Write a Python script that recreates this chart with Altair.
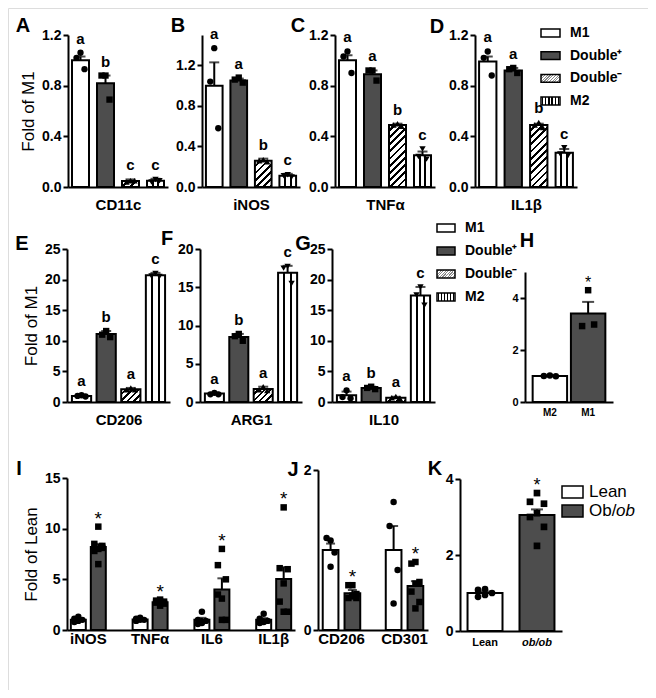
import altair as alt
import pandas as pd

FONT = "Liberation Sans"
OFF = 8
CW, CH = 640, 682
DARK = "#4d4d4d"

# ---------------- data ----------------
M_CATS = ["M1", "Double+", "Double-", "M2"]

A_mean = [1.00, 0.82, 0.047, 0.05]
A_err = [1.03, 0.88, 0.06, 0.065]
A_pts = [[1.06, 1.02, 0.93], [0.88, 0.88, 0.69], [0.05, 0.04, 0.05], [0.06, 0.04, 0.05]]
A_lab = ["a", "b", "c", "c"]

B_mean = [1.00, 1.05, 0.26, 0.11]
B_err = [1.23, 1.07, 0.28, 0.13]
B_pts = [[1.37, 1.04, 0.58], [1.08, 1.06, 1.03], [0.27, 0.26, 0.25], [0.12, 0.11, 0.10]]
B_lab = ["a", "a", "b", "c"]

C_mean = [1.00, 0.89, 0.49, 0.25]
C_err = [1.04, 0.92, 0.50, 0.28]
C_pts = [[1.07, 1.03, 0.90], [0.92, 0.92, 0.84], [0.50, 0.49, 0.48], [0.30, 0.24, 0.22]]
C_lab = ["a", "a", "b", "c"]

D_mean = [0.99, 0.92, 0.49, 0.27]
D_err = [1.03, 0.94, 0.50, 0.30]
D_pts = [[1.07, 1.02, 0.88], [0.94, 0.93, 0.90], [0.51, 0.49, 0.47], [0.31, 0.26, 0.25]]
D_lab = ["a", "a", "b", "c"]

E_mean = [1.0, 11.1, 2.1, 20.7]
E_err = [1.1, 11.6, 2.3, 21.1]
E_pts = [[1.1, 1.0, 0.9], [11.6, 11.0, 10.6], [2.3, 2.0, 2.0], [21.0, 20.6, 20.5]]
E_lab = ["a", "b", "a", "c"]

F_mean = [1.1, 8.5, 1.7, 16.9]
F_err = [1.2, 8.9, 2.0, 17.8]
F_pts = [[1.2, 1.0, 1.0], [8.9, 8.6, 8.0], [2.0, 1.6, 1.5], [17.7, 17.5, 15.5]]
F_lab = ["a", "b", "a", "c"]

G_mean = [1.1, 2.3, 0.7, 17.4]
G_err = [1.7, 2.5, 0.85, 18.8]
G_pts = [[1.9, 0.8, 0.6], [2.5, 2.3, 2.1], [0.9, 0.7, 0.6], [18.8, 17.5, 15.8]]
G_lab = ["a", "b", "a", "c"]

H_cats = ["M2", "M1"]
H_mean = [1.0, 3.4]
H_err = [1.02, 3.85]
H_pts = [[1.02, 1.0, 0.99], [4.3, 2.92, 2.98]]
H_lab = ["", "*"]

GROUPS = ["Lean", "Ob"]
I_genes = ["iNOS", "TNFα", "IL6", "IL1β"]
I_lean_mean = [1.0, 1.04, 1.0, 1.02]
I_lean_err = [1.1, 1.1, 1.2, 1.17]
I_lean_pts = [[1.3, 1.1, 1.0, 0.9, 0.8], [1.2, 1.1, 1.0, 1.0, 0.9],
              [1.8, 1.0, 0.9, 0.7, 0.6], [1.6, 1.1, 0.9, 0.8, 0.7]]
I_ob_mean = [8.2, 2.74, 4.0, 5.03]
I_ob_err = [8.5, 2.9, 5.1, 6.2]
I_ob_pts = [[10.2, 8.5, 8.3, 8.0, 7.8, 8.1, 6.5], [3.0, 2.9, 2.8, 2.8, 2.7, 2.6, 2.4],
            [8.0, 6.4, 5.0, 3.1, 3.5, 1.0, 1.0], [12.1, 6.1, 6.0, 4.6, 2.8, 1.8, 1.8]]
I_stars = ["*", "*", "*", "*"]

J_genes = ["CD206", "CD301"]
J_lean_mean = [1.0, 1.0]
J_lean_err = [1.08, 1.3]
J_lean_pts = [[1.12, 1.15, 0.97, 0.79], [1.6, 1.3, 0.75, 0.33]]
J_ob_mean = [0.46, 0.55]
J_ob_err = [0.5, 0.61]
J_ob_pts = [[0.56, 0.56, 0.45, 0.42, 0.40, 0.40, 0.43], [0.85, 0.83, 0.6, 0.58, 0.48, 0.35, 0.27]]
J_stars = ["*", "*"]

K_cats = ["Lean", "ob/ob"]
K_mean = [1.0, 3.05]
K_err = [1.04, 3.2]
K_pts = [[1.1, 1.08, 1.0, 0.95, 0.9], [3.63, 3.4, 3.35, 3.1, 3.0, 2.74, 2.24]]
K_lab = ["", "*"]

LEG_M_KEYS = ["M1", "Double+", "Double-", "M2"]
LEG_M_TEXT = ["M1", "Double⁺", "Double⁻", "M2"]
LEG_L_KEYS = ["Lean", "Ob"]
LEG_L_TEXT = ["Lean", "Ob/"]

# ---------------- layout / style ----------------
P = {
    "A": dict(x0=68, x1=168, y0=187, ytop=35, ymax=1.2, ticks=[0, 0.4, 0.8, 1.2], fmt=".1f", pi=0.32, po=0.16, xtitle="CD11c", ytitle="Fold of M1"),
    "B": dict(x0=202, x1=300, y0=187, ytop=35, ymax=1.5, ticks=[0, 0.4, 0.8, 1.2], fmt=".1f", pi=0.32, po=0.16, xtitle="iNOS"),
    "C": dict(x0=335, x1=435, y0=187, ytop=35, ymax=1.2, ticks=[0, 0.4, 0.8, 1.2], fmt=".1f", pi=0.32, po=0.16, xtitle="TNFα"),
    "D": dict(x0=475, x1=577, y0=187, ytop=35, ymax=1.2, ticks=[0, 0.4, 0.8, 1.2], fmt=".1f", pi=0.32, po=0.16, xtitle="IL1β"),
    "E": dict(x0=67, x1=170, y0=402, ytop=249, ymax=25, ticks=[0, 5, 10, 15, 20, 25], fmt="d", pi=0.22, po=0.2, xtitle="CD206", ytitle="Fold of M1"),
    "F": dict(x0=200, x1=302, y0=402, ytop=249, ymax=20, ticks=[0, 5, 10, 15, 20], fmt="d", pi=0.22, po=0.2, xtitle="ARG1"),
    "G": dict(x0=332, x1=435, y0=402, ytop=249, ymax=25, ticks=[0, 5, 10, 15, 20, 25], fmt="d", pi=0.22, po=0.2, xtitle="IL10"),
    "H": dict(x0=525, x1=613, y0=402, ytop=272, ymax=5, ticks=[0, 2, 4], fmt="d", pi=0.1, po=0.2, ylfs=11, xlabels=True, xlfs=10, xlpad=5, jit=6, cap=12, star=16, ps=42),
    "I": dict(x0=67, x1=295, y0=630, ytop=478, ymax=15, ticks=[0, 5, 10, 15], fmt="d", pi=0.434, po=0.062, opi=0.25, ytitle="Fold of Lean", xlabels=True, xlfs=15, xlpad=1, star=19),
    "J": dict(x0=318, x1=428, y0=630, ytop=470, ymax=2, ticks=[0, 1, 2], fmt="d", pi=0.405, po=0.075, opi=0.28, xlabels=True, xlfs=15, xlpad=1, star=19),
    "K": dict(x0=460, x1=562, y0=631, ytop=479, ymax=4, ticks=[0, 2, 4], fmt="d", pi=0.327, po=0.145, xlabels=True, xlfs=11, xlpad=5, jit=7, cap=12, star=18, ps=45,
              lstyle={"condition": {"test": "datum.value === 'ob/ob'", "value": "italic"}, "value": "normal"}),
}
LETTERS = {"A": (23, 32), "B": (178, 32), "C": (298, 32), "D": (437, 33), "E": (22, 250), "F": (167, 245),
           "G": (303, 250), "H": (527, 247), "I": (19, 475), "J": (293, 476), "K": (435, 475)}
LEG1 = dict(r0=21.6, r1=112.4, pi=0.65, po=0.325, sx0=541, sx1=560, tx=570, fs=14, fw="bold")
LEG2 = dict(r0=216.5, r1=308.5, pi=0.65, po=0.325, sx0=437, sx1=455, tx=465, fs=14, fw="bold")
LEG3 = dict(r0=482.5, r1=520.5, pi=0.37, po=0.185, sx0=562, sx1=583, tx=589, fs=17, fw="normal", ital_x=616)


# ---------------- helpers ----------------
def grad(stops, x2, y2):
    return alt.LinearGradient(gradient="linear", x1=0, y1=0, x2=round(x2, 4), y2=round(y2, 4),
                              stops=[alt.GradientStop(color=c, offset=round(min(max(o, 0), 1), 4)) for c, o in stops])


def hatch(W, H, period=7.0, ink=0.38, c_ink="black", c_bg="white"):
    n = max(1, int(round((W + H) / period)))
    k = (W + H) / (W * W + H * H)
    st = []
    for i in range(n):
        a, b, c = i / n, (i + 1 - ink) / n, (i + 1) / n
        st += [(c_bg, a), (c_bg, b), (c_ink, b), (c_ink, c)]
    return grad(st, W * k, H * k)


def vstripes(fracs, lw):
    st, pos = [], 0.0
    for f in fracs:
        a, b = f - lw / 2, f + lw / 2
        st += [("white", pos), ("white", a), ("black", a), ("black", b)]
        pos = b
    st += [("white", pos), ("white", 1.0)]
    return grad(st, 1, 0)


def bandwidth(L, n):
    step = (L["x1"] - L["x0"]) / (n - L["pi"] + 2 * L["po"])
    return step, step * (1 - L["pi"])


def xscale(L, cats):
    return alt.Scale(type="band", domain=cats, range=[L["x0"] - OFF, L["x1"] - OFF],
                     paddingInner=L["pi"], paddingOuter=L["po"])


def yscale(L):
    return alt.Scale(domain=[0, L["ymax"]], range=[L["y0"] - OFF, L["ytop"] - OFF], nice=False, zero=False)


def x_axis(L):
    kw = dict(orient="bottom", offset=(L["y0"] - OFF) - CH, ticks=False, domainWidth=2, domainColor="black",
              titleFont=FONT, titleFontSize=15, titleFontWeight="bold", titleColor="black", titlePadding=10)
    if L.get("xlabels"):
        kw.update(labels=True, labelFont=FONT, labelFontSize=L["xlfs"], labelFontWeight="bold", labelColor="black",
                  labelPadding=L["xlpad"], labelAngle=0)
    else:
        kw.update(labels=False)
    if "lstyle" in L:
        kw["labelFontStyle"] = L["lstyle"]
    return alt.Axis(**kw)


def y_axis(L):
    return alt.Axis(orient="left", offset=-(L["x0"] - OFF), values=L["ticks"], format=L["fmt"],
                    labelFont=FONT, labelFontSize=L.get("ylfs", 14), labelFontWeight="bold", labelColor="black",
                    labelPadding=2, tickSize=5, tickWidth=2, tickColor="black", domainWidth=2, domainColor="black",
                    grid=False, titleFont=FONT, titleFontSize=17, titleFontWeight="normal", titleColor="black",
                    titlePadding=4)


def X(L, cats, with_axis=False):
    if with_axis:
        return alt.X("cat:N", scale=xscale(L, cats), axis=x_axis(L), title=L.get("xtitle"))
    return alt.X("cat:N", scale=xscale(L, cats), axis=None)


def Y(L, field, with_axis=False):
    if with_axis:
        return alt.Y(f"{field}:Q", scale=yscale(L), axis=y_axis(L), title=L.get("ytitle"))
    return alt.Y(f"{field}:Q", scale=yscale(L), axis=None)


def fill_for(style, W, H):
    if style == "white":
        return "white"
    if style == "dark":
        return DARK
    if style == "diag":
        return hatch(W, H)
    return vstripes([1 / 3, 2 / 3], 2.0 / W)


def simple_panel(L, cats, means, errs, pts, labs, styles, shapes):
    bars = pd.DataFrame({"cat": cats, "mv": means, "ev": errs,
                         "ann": [max(e, max(p)) for e, p in zip(errs, pts)], "lab": labs})
    rows = []
    for c, plist, shp in zip(cats, pts, shapes):
        for i, v in enumerate(plist):
            rows.append({"cat": c, "val": v, "slot": i % 3, "shape": shp})
    pdf = pd.DataFrame(rows)
    step, W = bandwidth(L, len(cats))
    layers = []
    for j, (c, m, stl) in enumerate(zip(cats, means, styles)):
        Hpx = m / L["ymax"] * (L["y0"] - L["ytop"])
        layers.append(alt.Chart(bars).transform_filter(alt.datum.cat == c)
                      .mark_bar(fill=fill_for(stl, W, Hpx), stroke="black", strokeWidth=2, opacity=1)
                      .encode(x=X(L, cats, j == 0), y=Y(L, "mv", j == 0)))
    layers.append(alt.Chart(bars).mark_rule(color="black", strokeWidth=2)
                  .encode(x=X(L, cats), y=Y(L, "mv"), y2="ev:Q"))
    layers.append(alt.Chart(bars).mark_tick(color="black", thickness=2, size=L.get("cap", 10))
                  .encode(x=X(L, cats), y=Y(L, "ev")))
    d = L.get("jit", 4)
    for s, off in enumerate([0, -d, d]):
        layers.append(alt.Chart(pdf).transform_filter(alt.datum.slot == s)
                      .mark_point(filled=True, color="black", opacity=1, size=L.get("ps", 40), xOffset=off)
                      .encode(x=X(L, cats), y=Y(L, "val"), shape=alt.Shape("shape:N", scale=None)))
    if "star" in L:
        txt = alt.Chart(bars).mark_text(font=FONT, fontSize=L["star"], color="black", baseline="alphabetic", dy=-2)
    else:
        txt = alt.Chart(bars).mark_text(font=FONT, fontSize=15, fontWeight="bold", color="black",
                                        baseline="alphabetic", dy=-9)
    layers.append(txt.encode(x=X(L, cats), y=Y(L, "ann"), text="lab:N"))
    return layers


def grouped_panel(L, genes, lm, le, lp, om, oe, op, stars):
    rows, prow = [], []
    for g, a1, a2, a3, b1, b2, b3, st in zip(genes, lm, le, lp, om, oe, op, stars):
        rows.append(dict(cat=g, grp="Lean", mv=a1, ev=a2, ann=max(a2, max(a3)), lab=""))
        rows.append(dict(cat=g, grp="Ob", mv=b1, ev=b2, ann=max(b2, max(b3)), lab=st))
        for i, v in enumerate(a3):
            prow.append(dict(cat=g, grp="Lean", val=v, slot=i % 3, shape="circle"))
        for i, v in enumerate(b3):
            prow.append(dict(cat=g, grp="Ob", val=v, slot=i % 3, shape="square"))
    bars, pdf = pd.DataFrame(rows), pd.DataFrame(prow)
    step, bw = bandwidth(L, len(genes))
    sub = bw / (2 - L["opi"])
    XO = alt.XOffset("grp:N", scale=alt.Scale(type="band", domain=GROUPS, paddingInner=L["opi"], paddingOuter=0))
    layers = []
    for j, (grp, fill) in enumerate([("Lean", "white"), ("Ob", DARK)]):
        layers.append(alt.Chart(bars).transform_filter(alt.datum.grp == grp)
                      .mark_bar(fill=fill, stroke="black", strokeWidth=2, opacity=1)
                      .encode(x=X(L, genes, j == 0), xOffset=XO, y=Y(L, "mv", j == 0)))
    layers.append(alt.Chart(bars).mark_rule(color="black", strokeWidth=2)
                  .encode(x=X(L, genes), xOffset=XO, y=Y(L, "mv"), y2="ev:Q"))
    layers.append(alt.Chart(bars).mark_tick(color="black", thickness=2, size=9)
                  .encode(x=X(L, genes), xOffset=XO, y=Y(L, "ev")))
    d = 4
    for grp, sign in [("Lean", -1), ("Ob", 1)]:
        for s, off in enumerate([0, -d, d]):
            layers.append(alt.Chart(pdf).transform_filter((alt.datum.slot == s) & (alt.datum.grp == grp))
                          .mark_point(filled=True, color="black", opacity=1, size=42, xOffset=sign * sub / 2 + off)
                          .encode(x=X(L, genes), y=Y(L, "val"), shape=alt.Shape("shape:N", scale=None)))
    layers.append(alt.Chart(bars).mark_text(font=FONT, fontSize=L["star"], color="black", baseline="alphabetic", dy=-2)
                  .encode(x=X(L, genes), xOffset=XO, y=Y(L, "ann"), text="lab:N"))
    return layers


def legend(G, keys, texts, fills):
    df = pd.DataFrame({"lab": keys, "text": texts})
    ys = alt.Y("lab:N", scale=alt.Scale(type="band", domain=keys, range=[G["r0"] - OFF, G["r1"] - OFF],
                                        paddingInner=G["pi"], paddingOuter=G["po"]), axis=None)
    layers = []
    for k, f in zip(keys, fills):
        layers.append(alt.Chart(df).transform_filter(alt.datum.lab == k)
                      .mark_rect(fill=f, stroke="black", strokeWidth=1.5)
                      .encode(y=ys, x=alt.value(G["sx0"] - OFF), x2=alt.value(G["sx1"] - OFF)))
    layers.append(alt.Chart(df).mark_text(font=FONT, fontSize=G["fs"], fontWeight=G["fw"], color="black",
                                          align="left", baseline="middle")
                  .encode(y=ys, x=alt.value(G["tx"] - OFF), text="text:N"))
    return layers, df, ys


M_STYLES = ["white", "dark", "diag", "vline"]
M_SHAPES = ["circle", "square", "triangle-up", "triangle-down"]

layers = []
for key, mm, ee, pp, ll in [("A", A_mean, A_err, A_pts, A_lab), ("B", B_mean, B_err, B_pts, B_lab),
                            ("C", C_mean, C_err, C_pts, C_lab), ("D", D_mean, D_err, D_pts, D_lab),
                            ("E", E_mean, E_err, E_pts, E_lab), ("F", F_mean, F_err, F_pts, F_lab),
                            ("G", G_mean, G_err, G_pts, G_lab)]:
    layers += simple_panel(P[key], M_CATS, mm, ee, pp, ll, M_STYLES, M_SHAPES)
layers += simple_panel(P["H"], H_cats, H_mean, H_err, H_pts, H_lab, ["white", "dark"], ["circle", "square"])
layers += simple_panel(P["K"], K_cats, K_mean, K_err, K_pts, K_lab, ["white", "dark"], ["circle", "square"])
layers += grouped_panel(P["I"], I_genes, I_lean_mean, I_lean_err, I_lean_pts, I_ob_mean, I_ob_err, I_ob_pts, I_stars)
layers += grouped_panel(P["J"], J_genes, J_lean_mean, J_lean_err, J_lean_pts, J_ob_mean, J_ob_err, J_ob_pts, J_stars)

# legends
sw_W = LEG1["sx1"] - LEG1["sx0"]
m_fills = ["white", DARK, hatch(sw_W, 8, period=2.6, ink=0.45, c_ink="#8a8a8a"),
           vstripes([(i + 0.5) / 6 for i in range(6)], 1.3 / sw_W)]
for G in (LEG1, LEG2):
    lg, _, _ = legend(G, LEG_M_KEYS, LEG_M_TEXT, m_fills)
    layers += lg
lg, ldf, lys = legend(LEG3, LEG_L_KEYS, LEG_L_TEXT, ["white", DARK])
layers += lg
layers.append(alt.Chart(ldf).transform_filter(alt.datum.lab == "Ob")
              .mark_text(font=FONT, fontSize=LEG3["fs"], fontStyle="italic", color="black", align="left", baseline="middle")
              .encode(y=lys, x=alt.value(LEG3["ital_x"] - OFF), text=alt.value("ob")))

# panel letters
for k, (lx, ly) in LETTERS.items():
    layers.append(alt.Chart(pd.DataFrame({"t": [k]}))
                  .mark_text(font=FONT, fontSize=20, fontWeight="bold", color="black", align="center", baseline="alphabetic")
                  .encode(x=alt.value(lx - OFF), y=alt.value(ly - OFF), text="t:N"))

chart = (alt.layer(*layers)
         .resolve_scale(x="independent", y="independent", xOffset="independent")
         .resolve_axis(x="independent", y="independent")
         .properties(width=CW, height=CH, autosize=alt.AutoSizeParams(type="none"), padding=0)
         .configure_view(stroke=None)
         .configure(font=FONT))

chart.save("out.html", embed_options={"renderer": "svg", "actions": False})
